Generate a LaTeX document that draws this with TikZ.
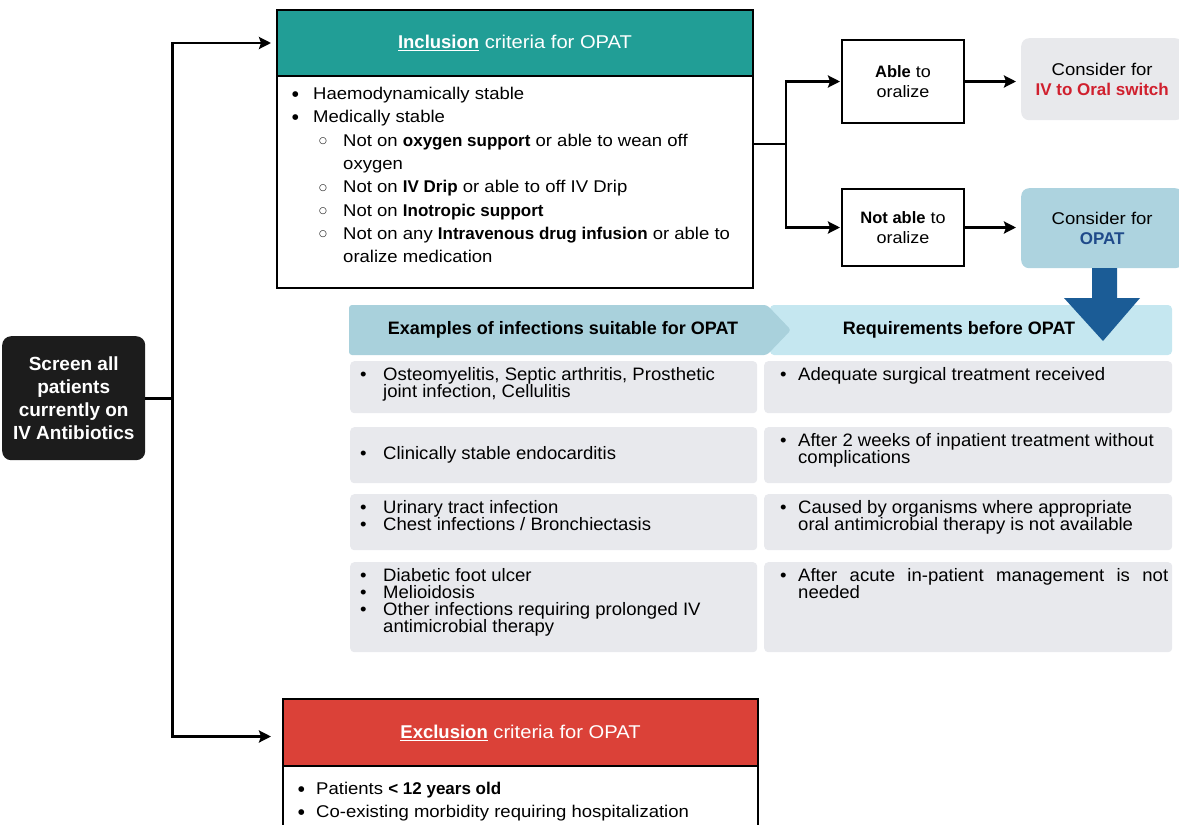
\documentclass[tikz,border=0pt]{standalone}
\usepackage{fontspec}
\setmainfont{Liberation Sans}[FakeStretch=1.09,BoldFeatures={FakeStretch=1.0}]
\newfontfamily\gfont{Liberation Sans}[FakeStretch=1.03]
\newfontfamily\dvs{DejaVu Sans}
\usetikzlibrary{arrows.meta}
\definecolor{teal1}{HTML}{219E96}
\definecolor{redh}{HTML}{DB4138}
\definecolor{darkb}{HTML}{1C1C1C}
\definecolor{greyc}{HTML}{E8E9EC}
\definecolor{opatc}{HTML}{ADD3DF}
\definecolor{arrblue}{HTML}{1B5C96}
\definecolor{opatt}{HTML}{1F4A8A}
\definecolor{redt}{HTML}{D0202E}
\definecolor{hdrA}{HTML}{A9D1DC}
\definecolor{hdrB}{HTML}{C5E7F0}
\definecolor{rowg}{HTML}{E8E9ED}
\newcommand{\bigdot}{\raisebox{3pt}{\dvs\fontsize{7.5}{7.5}\selectfont ●}}
\newcommand{\bl}[1]{\makebox[21pt][l]{\bigdot}#1}
\newcommand{\sbl}[1]{\hspace*{27pt}\makebox[24pt][l]{\raisebox{2.5pt}{\dvs\bfseries\fontsize{9}{9}\selectfont ○}}#1}
\newcommand{\cnt}[1]{\hspace*{51pt}#1}
\newcommand{\gbl}[1]{\makebox[23pt][l]{\textbullet}#1}
\newcommand{\gbr}[1]{\makebox[18pt][l]{\textbullet}#1}
\begin{document}
\begin{tikzpicture}[x=1pt,y=-1pt,
  conn/.style={line width=2.8pt},
  arr/.style={line width=2.8pt,-{Stealth[length=12pt,width=12pt,inset=2pt]}},
  box/.style={anchor=north west,inner sep=0pt,draw=black,line width=2pt},
  cbox/.style={anchor=north west,inner sep=0pt,rounded corners=8pt,align=center,font=\fontsize{17}{20}\selectfont},
  hd/.style={anchor=north west,inner sep=0pt,draw=black,line width=2pt,text=white,font=\fontsize{18.5}{22}\selectfont},
  body/.style={anchor=north west,inner sep=0pt,align=left,font=\fontsize{17}{23.3}\selectfont},
  row/.style={anchor=north west,inner sep=0pt,fill=rowg,rounded corners=4pt},
  gtxt/.style={anchor=north west,inner sep=0pt,align=left,font=\gfont\fontsize{18}{17.2}\selectfont},
  hdtxt/.style={inner sep=0pt,font=\bfseries\fontsize{18}{20}\selectfont}]
\useasboundingbox (0,0) rectangle (1179,825);

% left screen box
\node[anchor=north west,inner sep=0pt,minimum width=143pt,minimum height=124pt,rounded corners=9pt,fill=darkb,text=white,align=center,font=\bfseries\fontsize{19}{23}\selectfont] (screen) at (2,336) {Screen all\\patients\\currently on\\IV Antibiotics};

% inclusion box
\node[box,minimum width=476pt,minimum height=278pt] (incl) at (276,9) {};
\node[hd,fill=teal1,minimum width=476pt,minimum height=66pt] (inclhead) at (276,9) {\textbf{\underline{Inclusion}} criteria for OPAT};
\node[body] (incltext) at (292,87) {\bl{Haemodynamically stable}\\
\bl{Medically stable}\\
\sbl{Not on \textbf{oxygen support} or able to wean off}\\
\cnt{oxygen}\\
\sbl{Not on \textbf{IV Drip} or able to off IV Drip}\\
\sbl{Not on \textbf{Inotropic support}}\\
\sbl{Not on any \textbf{Intravenous drug infusion} or able to}\\
\cnt{oralize medication}};

% exclusion box
\node[box,minimum width=475pt,minimum height=140pt] (excl) at (282,698) {};
\node[hd,fill=redh,minimum width=475pt,minimum height=67pt] (exclhead) at (282,698) {\textbf{\underline{Exclusion}} criteria for OPAT};
\node[body,anchor=north west] (excltext) at (298,782) {\makebox[18pt][l]{\bigdot}Patients \textbf{< 12 years old}\\
\makebox[18pt][l]{\bigdot}Co-existing morbidity requiring hospitalization};

% decision boxes
\node[box,minimum width=122pt,minimum height=83pt,align=center,font=\fontsize{16.5}{20}\selectfont] (able) at (841,39) {\textbf{Able} to\\oralize};
\node[box,minimum width=122pt,minimum height=77pt,align=center,font=\fontsize{16.5}{20}\selectfont] (notable) at (841,188) {\textbf{Not able} to\\oralize};

\node[cbox,fill=greyc,minimum width=162pt,minimum height=82pt] (iv) at (1021,38) {Consider for\\\textcolor{redt}{\textbf{IV to Oral switch}}};
\node[cbox,fill=opatc,minimum width=162pt,minimum height=80pt] (opat) at (1021,188) {Consider for\\\textcolor{opatt}{\textbf{OPAT}}};

% connectors
\draw[conn] (screen.east) -- ++(27,0) coordinate (j);
\draw[arr,shorten >=5pt] (j) |- (inclhead.west);
\draw[arr,shorten >=11pt] (j) |- ([yshift=-4pt]exclhead.west);
\draw[conn] ([yshift=5pt]incl.east) -- ++(32,0) coordinate (k);
\draw[arr,shorten >=1pt] (k) |- (able.west);
\draw[arr,shorten >=1pt] (k) |- (notable.west);
\draw[arr,shorten >=5pt] (able.east) -- (able.east -| iv.west);
\draw[arr,shorten >=5pt] (notable.east) -- (notable.east -| opat.west);

% header band
\fill[hdrB,rounded corners=4pt] (770,305) rectangle (1172,355);
\fill[hdrA,rounded corners=3pt] (349,305) -- (767,305) -- (791,330) -- (767,355) -- (349,355) -- cycle;
\node[hdtxt] (h1) at (563,330) {Examples of infections suitable for OPAT};
\node[hdtxt] (h2) at (959,330) {Requirements before OPAT};

% big down arrow
\fill[arrblue] (1092,268) -- (1117,268) -- (1117,298) -- (1140,298) -- (1103,341) -- (1064,298) -- (1092,298) -- cycle;

% rows
\node[row,minimum width=407pt,minimum height=52pt] (l1) at (350,361) {};
\node[row,minimum width=408pt,minimum height=52pt] (r1) at (764,361) {};
\node[row,minimum width=407pt,minimum height=56pt] (l2) at (350,427) {};
\node[row,minimum width=408pt,minimum height=56pt] (r2) at (764,427) {};
\node[row,minimum width=407pt,minimum height=56pt] (l3) at (350,494) {};
\node[row,minimum width=408pt,minimum height=56pt] (r3) at (764,494) {};
\node[row,minimum width=407pt,minimum height=90pt] (l4) at (350,562) {};
\node[row,minimum width=408pt,minimum height=90pt] (r4) at (764,562) {};

\node[gtxt] (tl1) at (360,367) {\gbl{Osteomyelitis, Septic arthritis, Prosthetic}\\\hspace*{23pt}joint infection, Cellulitis};
\node[gtxt,anchor=west] (tl2) at (360,455) {\gbl{Clinically stable endocarditis}};
\node[gtxt] (tl3) at (360,500) {\gbl{Urinary tract infection}\\\gbl{Chest infections / Bronchiectasis}};
\node[gtxt] (tl4) at (360,568) {\gbl{Diabetic foot ulcer}\\\gbl{Melioidosis}\\\gbl{Other infections requiring prolonged IV}\\\hspace*{23pt}antimicrobial therapy};

\node[gtxt] (tr1) at (780,367) {\gbr{Adequate surgical treatment received}};
\node[gtxt] (tr2) at (780,433) {\gbr{After 2 weeks of inpatient treatment without}\\\hspace*{18pt}complications};
\node[gtxt] (tr3) at (780,500) {\gbr{Caused by organisms where appropriate}\\\hspace*{18pt}oral antimicrobial therapy is not available};
\node[gtxt] (tr4) at (780,568) {\gbr{\makebox[370pt][s]{After acute in-patient management is not}}\\\hspace*{18pt}needed};
\end{tikzpicture}
\end{document}
